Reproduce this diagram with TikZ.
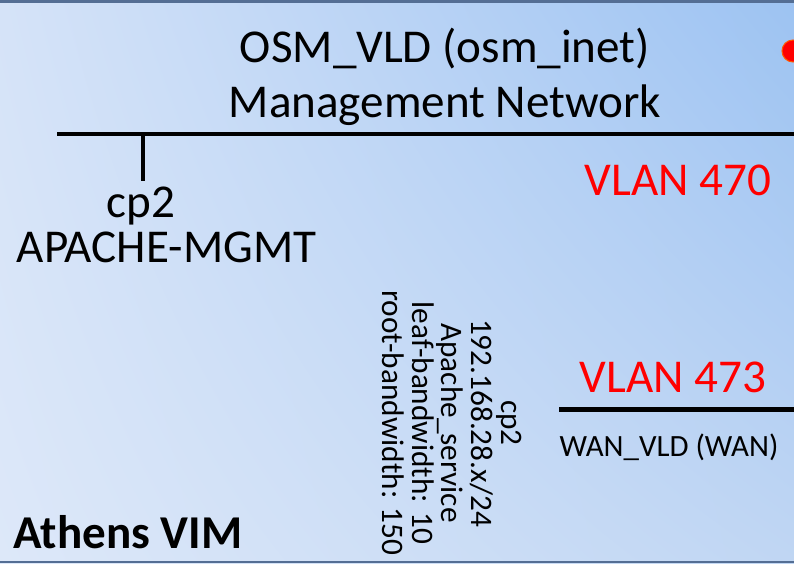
\documentclass[tikz,border=0pt]{standalone}
\usepackage{fontspec}
\setmainfont{Carlito}
\usetikzlibrary{positioning,shadings}
\definecolor{FrameBlue}{RGB}{84,110,148}
\definecolor{VimUL}{RGB}{213,227,248}
\definecolor{VimUR}{RGB}{157,195,242}
\definecolor{VimLL}{RGB}{221,232,249}
\definecolor{VimLR}{RGB}{192,214,243}

\begin{document}
\begin{tikzpicture}[
    every node/.style={font=\fontsize{13.4}{15.6}\selectfont, inner sep=0pt},
    netline/.style={line width=1.3pt, black},
    tickline/.style={line width=1.1pt, black},
    vlanlabel/.style={text=red},
    smalltext/.style={font=\fontsize{8.8}{10.5}\selectfont}
]
    \useasboundingbox (0,0) rectangle (7.94,5.63);
    % VIM background
    \shade[shading=bilinear interpolation, lower left=VimLL, upper left=VimUL,
           upper right=VimUR, lower right=VimLR] (0,0) rectangle (7.94,5.63);
    \draw[FrameBlue, line width=0.85pt] (0,5.615) -- (7.94,5.615);
    \draw[FrameBlue, line width=0.6pt] (0,0.01) -- (7.94,0.01);
    \begin{scope}
        \clip (0,0) rectangle (7.94,5.63);
        \fill[red, draw=orange!70!red, line width=0.3pt] (7.93,5.12) ellipse (0.11 and 0.11);
    \end{scope}

    % management network
    \node[align=center] (mgmtname) at (4.45,4.86) {OSM\_VLD (osm\_inet)\\Management Network};
    \coordinate (mgmtL) at (0.57,4.29);
    \coordinate (mgmtR) at (7.94,4.29);
    \draw[netline] (mgmtL) -- (mgmtR);
    \node[vlanlabel, anchor=base] (vlanmgmt) at (6.78,3.67) {VLAN 470};

    % cp2 on the management network
    \coordinate (cp2top) at (1.43,4.29);
    \node[anchor=base] (cp2lbl) at (1.41,3.45) {cp2};
    \node[anchor=base] (apachelbl) at (1.665,3.00) {APACHE-MGMT};
    \draw[tickline, shorten >=1.5pt] (cp2top) -- (cp2top |- cp2lbl.north);

    % cp2 details
    \node[font=\fontsize{8.9}{8.5}\selectfont, rotate=-90, align=center] (cp2info) at (4.52,1.40)
        {cp2\\192.168.28.x/24\\Apache\_service\\leaf-bandwidth: 10\\root-bandwidth: 150};

    % WAN network
    \node[vlanlabel, anchor=base] (vlanwan) at (6.73,1.70) {VLAN 473};
    \coordinate (wanL) at (5.59,1.535);
    \coordinate (wanR) at (7.94,1.535);
    \draw[netline] (wanL) -- (wanR);
    \node[smalltext, anchor=base] (wanname) at (6.69,1.06) {WAN\_VLD (WAN)};

    \node[font=\fontsize{13.4}{15.6}\selectfont\bfseries, anchor=base west] (vimname) at (0.13,0.15) {Athens VIM};
\end{tikzpicture}
\end{document}
